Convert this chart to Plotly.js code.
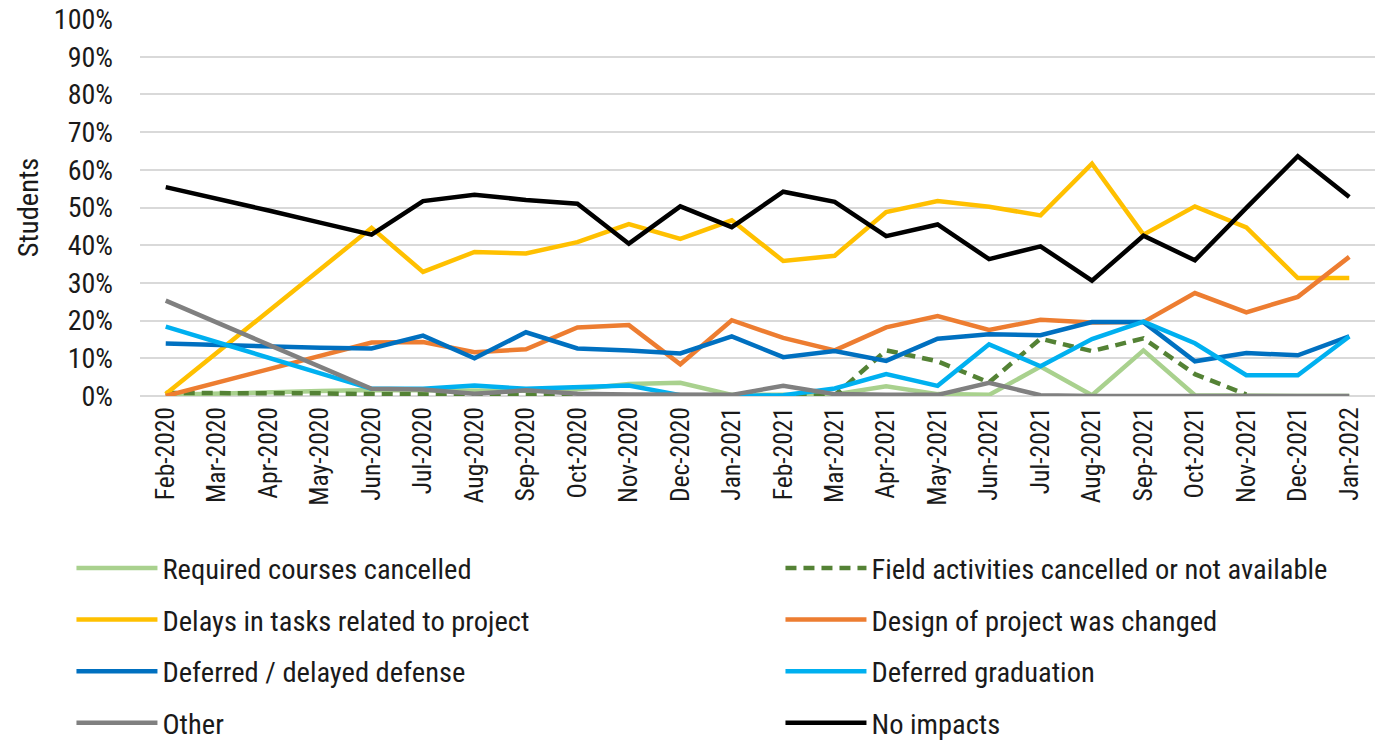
<!DOCTYPE html>
<html>
<head>
<meta charset="utf-8">
<script src="https://cdn.plot.ly/plotly-3.0.1.min.js"></script>
<style>html,body{margin:0;padding:0;background:#fff;}#chart{width:1395px;height:741px;}</style>
</head>
<body>
<div id="chart"></div>
<script>
const months = ["Feb-2020","Mar-2020","Apr-2020","May-2020","Jun-2020","Jul-2020","Aug-2020","Sep-2020","Oct-2020","Nov-2020","Dec-2020","Jan-2021","Feb-2021","Mar-2021","Apr-2021","May-2021","Jun-2021","Jul-2021","Aug-2021","Sep-2021","Oct-2021","Nov-2021","Dec-2021","Jan-2022"];

const requiredCourses = [0.3, 0.7, 1.0, 1.3, 1.6, 1.5, 1.3, 1.4, 1.8, 3.2, 3.5, 0.3, 0.3, 0.4, 2.6, 0.5, 0.3, 7.8, 0.2, 12.1, 0.2, 0, 0, 0];
const fieldActivities = [0.8, 0.8, 0.7, 0.7, 0.5, 0.4, 0.5, 0.3, 0.3, 0.3, 0.2, 0, 0, 0.2, 12.1, 9.2, 3.6, 15.2, 11.9, 15.3, 5.8, 0.4, null, null];
const delaysTasks = [0.5, 11.5, 22.5, 33.5, 44.6, 32.9, 38.2, 37.8, 40.8, 45.6, 41.7, 46.6, 35.8, 37.2, 48.8, 51.7, 50.2, 47.9, 61.6, 42.8, 50.3, 44.7, 31.3, 31.3];
const designChanged = [0, 3.5, 7.0, 10.5, 14.2, 14.3, 11.6, 12.4, 18.2, 18.8, 8.4, 20.1, 15.4, 12.1, 18.2, 21.2, 17.5, 20.2, 19.5, 19.6, 27.3, 22.2, 26.3, 36.9];
const deferredDefense = [13.9, 13.5, 13.2, 12.8, 12.6, 16.0, 10.0, 16.9, 12.6, 12.1, 11.3, 15.8, 10.3, 11.9, 9.3, 15.2, 16.4, 16.1, 19.6, 19.6, 9.2, 11.4, 10.8, 15.8];
const deferredGraduation = [18.4, 14.3, 10.1, 6.0, 1.9, 1.9, 2.8, 1.9, 2.4, 2.8, 0.2, 0, 0.2, 2.0, 5.8, 2.7, 13.7, 7.9, 15.1, 19.7, 14.0, 5.5, 5.5, 15.8];
const otherImpact = [25.3, 19.4, 13.5, 7.6, 1.9, 1.7, 0.6, 1.5, 0.6, 0.4, 0.3, 0.3, 2.7, 0.5, 0.3, 0.3, 3.5, 0.2, 0, 0, 0, 0, 0, 0];
const noImpacts = [55.4, 52.4, 49.2, 46.0, 42.8, 51.7, 53.4, 52.0, 51.0, 40.4, 50.3, 44.8, 54.2, 51.5, 42.4, 45.5, 36.3, 39.7, 30.6, 42.5, 36.0, 49.9, 63.6, 52.8];

const FONT = "Roboto Condensed, Liberation Sans Narrow, DejaVu Sans Condensed, Roboto, sans-serif";

function tr(name, y, color, legend, dash) {
  return {
    type: "scatter", mode: "lines", name: name, x: months, y: y,
    line: {color: color, width: 4.5, dash: dash || "solid"},
    legend: legend, legendgroup: name, connectgaps: false,
    hovertemplate: "%{x}: %{y:.1f}%<extra>" + name + "</extra>"
  };
}

const data = [
  tr("Required courses cancelled", requiredCourses, "#a9d18e", "legend"),
  tr("Field activities cancelled or not available", fieldActivities, "#548235", "legend2", "11px,7px"),
  tr("Delays in tasks related to project", delaysTasks, "#ffc000", "legend"),
  tr("Design of project was changed", designChanged, "#ed7d31", "legend2"),
  tr("Deferred / delayed defense", deferredDefense, "#0070c0", "legend"),
  tr("Deferred graduation", deferredGraduation, "#00b0f0", "legend2"),
  tr("Other", otherImpact, "#808080", "legend"),
  tr("No impacts", noImpacts, "#000000", "legend2")
];

const legendBase = {
  orientation: "v", traceorder: "grouped", tracegroupgap: 11.5,
  yanchor: "top", xanchor: "left", y: -0.39,
  font: {family: FONT, size: 28.5, color: "#1a1a1a"},
  bgcolor: "rgba(0,0,0,0)", itemwidth: 81
};

const layout = {
  width: 1395, height: 741,
  margin: {l: 140, r: 20, t: 19, b: 345, autoexpand: false},
  paper_bgcolor: "#ffffff", plot_bgcolor: "#ffffff",
  font: {family: FONT, size: 28, color: "#1a1a1a"},
  showlegend: true,
  legend: Object.assign({}, legendBase, {x: -0.0555}),
  legend2: Object.assign({}, legendBase, {x: 0.5186}),
  xaxis: {
    type: "category", range: [-0.5, 23.5], tickangle: -90, showgrid: false, zeroline: false,
    showline: false, ticks: "", tickfont: {family: FONT, size: 25.5, color: "#1a1a1a"},
    ticklabelstandoff: 5, automargin: false
  },
  yaxis: {
    range: [0, 100], dtick: 10, ticksuffix: "%", showgrid: true,
    gridcolor: "#d9d9d9", gridwidth: 1.5, zeroline: true, zerolinecolor: "#d9d9d9", zerolinewidth: 1.5,
    showline: false, ticks: "", tickfont: {family: FONT, size: 28, color: "#1a1a1a"},
    ticklabelstandoff: 26, automargin: false,
    title: {text: "Students", font: {family: FONT, size: 28.5, color: "#1a1a1a"}, standoff: 6}
  }
};

Plotly.newPlot("chart", data, layout, {displayModeBar: false});
</script>
</body>
</html>
